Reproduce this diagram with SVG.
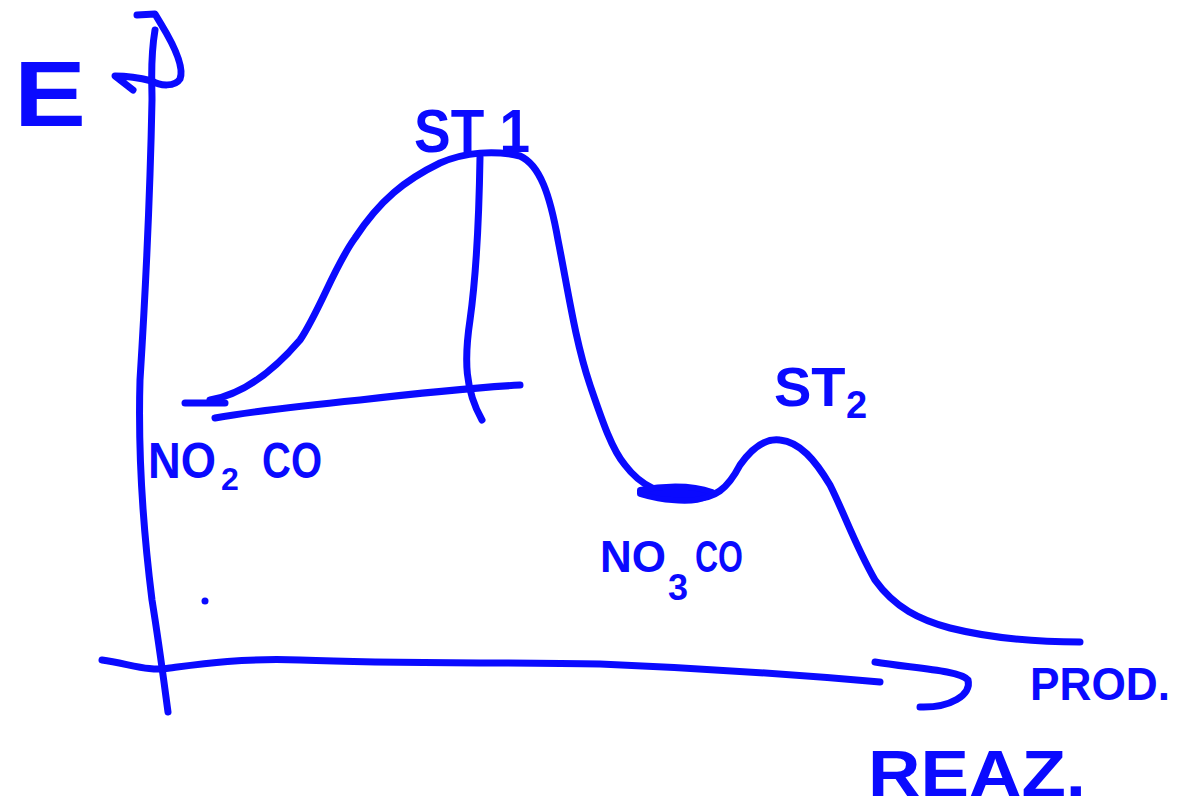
<svg xmlns="http://www.w3.org/2000/svg" width="1181" height="810" viewBox="0 0 1181 810">
<style>
.s{fill:none;stroke:#0a0aff;stroke-width:7;stroke-linecap:round;stroke-linejoin:round}
.t{fill:#0a0aff;font-family:"Liberation Sans",Arial,sans-serif;font-weight:bold}
</style>
<rect width="1181" height="810" fill="#fff"/>
<g id="connectors">
<path class="s" d="M155,30 C150,60 152,80 152,100 C150,200 145,300 140,380 C138,450 142,520 152,600 C160,650 165,690 168,712"/>
<path class="s" d="M137,15 L155,14 L161,24 C172,42 185,66 180,79 C175,87 160,86 152,81 C140,78 125,76 115,76 L133,90"/>
<path class="s" d="M102,660 C130,664 150,672 170,668 C200,664 240,658 300,660 C400,664 500,662 600,664 C700,668 800,675 880,682"/>
<path class="s" d="M875,662 C910,668 960,670 968,680 C972,695 950,708 920,707"/>
<path class="s" d="M210,400 C240,395 270,375 300,340 C320,310 335,265 355,238 C380,200 405,180 440,163 C465,152 495,150 520,156 C540,165 550,195 558,240 C568,290 575,340 590,385 C602,420 612,450 625,465 C640,485 660,495 690,498 C715,500 728,488 740,465 C752,448 765,438 780,440 C800,442 815,460 830,485 C845,515 855,545 875,580 C895,608 920,620 950,628 C990,638 1030,642 1080,642"/>
<path class="s" d="M185,403 L225,403"/>
<path class="s" d="M215,418 C260,410 310,405 360,400 C420,393 470,388 520,385"/>
<path class="s" d="M480,157 C479,220 477,270 470,320 C464,360 465,390 482,420"/>
<path d="M640,490 C660,486 690,484 712,492 C708,500 690,502 672,500 C660,500 650,497 640,494 Z" fill="#0a0aff" stroke="#0a0aff" stroke-width="6" stroke-linejoin="round"/>
<circle cx="205" cy="601" r="3.5" fill="#0a0aff"/>
</g>
<g id="label-E"><text class="t" x="14" y="126" font-size="92" textLength="72" lengthAdjust="spacingAndGlyphs">E</text></g>
<g id="label-ST1"><text class="t" x="414" y="152" font-size="62" textLength="116" lengthAdjust="spacingAndGlyphs">ST 1</text></g>
<g id="label-ST2"><text class="t" x="774" y="406" font-size="56">ST</text><text class="t" x="846" y="418" font-size="38">2</text></g>
<g id="label-NO2CO">
<text class="t" x="148" y="478" font-size="50" textLength="68" lengthAdjust="spacingAndGlyphs">NO</text>
<text class="t" x="221" y="490" font-size="32">2</text>
<text class="t" x="262" y="478" font-size="50" textLength="60" lengthAdjust="spacingAndGlyphs">CO</text>
</g>
<g id="label-NO3CO">
<text class="t" x="600" y="572" font-size="44">NO</text>
<text class="t" x="668" y="600" font-size="36">3</text>
<text class="t" x="695" y="572" font-size="44" textLength="48" lengthAdjust="spacingAndGlyphs">CO</text>
</g>
<g id="label-PROD"><text class="t" x="1030" y="700" font-size="46" textLength="140" lengthAdjust="spacingAndGlyphs">PROD.</text></g>
<g id="label-REAZ"><text class="t" x="868" y="796" font-size="64" textLength="218" lengthAdjust="spacingAndGlyphs">REAZ.</text></g>
</svg>
